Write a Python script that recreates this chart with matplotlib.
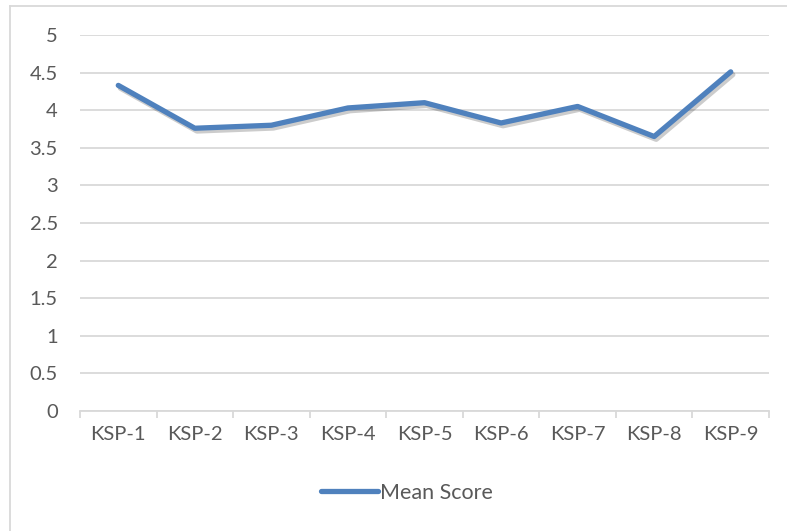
import matplotlib.pyplot as plt
import matplotlib.patheffects as pe
from matplotlib.lines import Line2D

categories = ['KSP-1', 'KSP-2', 'KSP-3', 'KSP-4', 'KSP-5', 'KSP-6', 'KSP-7', 'KSP-8', 'KSP-9']
mean_score = [4.33, 3.76, 3.80, 4.03, 4.10, 3.83, 4.05, 3.65, 4.51]
y_ticks = [0, 0.5, 1, 1.5, 2, 2.5, 3, 3.5, 4, 4.5, 5]
y_labels = ['0', '0.5', '1', '1.5', '2', '2.5', '3', '3.5', '4', '4.5', '5']

plt.rcParams['font.family'] = ['Lato', 'DejaVu Sans']
text_color = '#595959'
grid_color = '#D9D9D9'
line_color = '#4F81BD'

W, H = 787, 531
fig = plt.figure(figsize=(W / 100, H / 100), dpi=100)
ax = fig.add_axes([80 / W, 1 - 411 / H, (769 - 80) / W, (411 - 35) / H])

x = list(range(len(categories)))
ax.plot(x, mean_score, color=line_color, linewidth=3.8, solid_capstyle='round',
        solid_joinstyle='round', label='Mean Score',
        path_effects=[pe.SimpleLineShadow(offset=(1.5, -2), alpha=0.2, shadow_color='black'),
                      pe.Normal()])

ax.set_ylim(0, 5)
ax.set_xlim(-0.5, len(categories) - 0.5)
ax.set_yticks(y_ticks)
ax.set_yticklabels(y_labels)
ax.set_xticks(x)
ax.set_xticklabels(categories)
ax.set_xticks([i - 0.5 for i in range(len(categories) + 1)], minor=True)

ax.grid(axis='y', color=grid_color, linewidth=1.3)
ax.set_axisbelow(True)
for side in ['top', 'right', 'left']:
    ax.spines[side].set_visible(False)
ax.spines['bottom'].set_color(grid_color)
ax.spines['bottom'].set_linewidth(1.3)

ax.tick_params(axis='y', length=0, pad=16, labelsize=14.5, labelcolor=text_color)
ax.tick_params(axis='x', which='major', length=0, pad=11, labelsize=14.5, labelcolor=text_color)
ax.tick_params(axis='x', which='minor', length=5, width=1.3, color=grid_color, direction='out')

# legend at the bottom
handle = Line2D([], [], color=line_color, linewidth=3.8, solid_capstyle='round')
fig.legend([handle], ['Mean Score'], loc='center', bbox_to_anchor=(407 / W, 1 - 493 / H),
           frameon=False, fontsize=15.5, handlelength=2.65, handletextpad=0.1,
           labelcolor=text_color)

# chart outer border
fig.add_artist(Line2D([10 / W, 1], [1 - 6 / H, 1 - 6 / H], color=grid_color, linewidth=1.3))
fig.add_artist(Line2D([10 / W, 10 / W], [0, 1 - 6 / H], color=grid_color, linewidth=1.3))

fig.savefig('out.png', dpi=100)
